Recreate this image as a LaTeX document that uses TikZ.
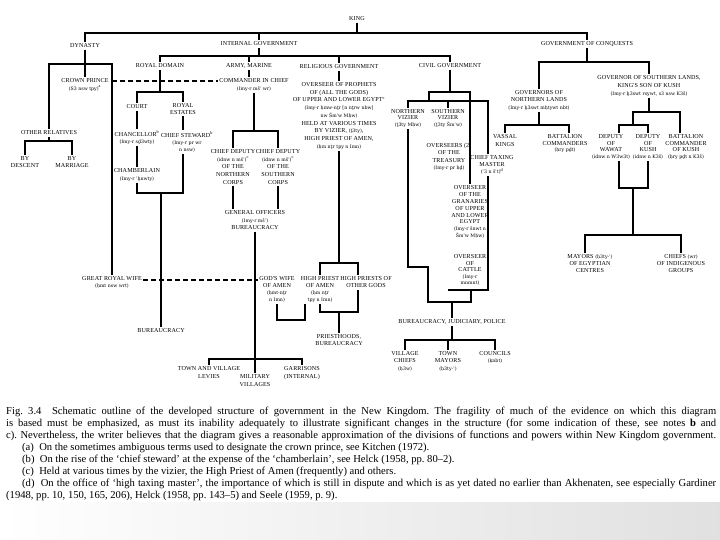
\documentclass[tikz,border=0pt]{standalone}
\usepackage{fontspec}
\setmainfont{Liberation Serif}
\newfontfamily\labf[LetterSpace=2]{Liberation Serif}
\newfontfamily\trf{DejaVu Serif}
\newcommand\labfont{\labf\fontsize{6.1}{7.3}\selectfont}
\newcommand\tr[1]{{\trf\fontsize{4.7}{5}\selectfont #1}}
\newcommand\sups[1]{\textsuperscript{#1}}
\begin{document}
\begin{tikzpicture}[x=1pt,y=-1pt,
  lab/.style={font=\labfont, align=center, inner sep=1.5pt},
  lsp/.style={font={\labf\fontsize{6.1}{#1}\selectfont}},
  conn/.style={line width=1.1pt, line join=miter},
  dline/.style={line width=1.1pt, dash pattern=on 5pt off 3pt},
  dbl/.style={line width=0.6pt, double distance=1.2pt},
  capline/.style={font=\fontsize{10.6}{12}\selectfont\frenchspacing, inner sep=0pt, anchor=base west}]
\useasboundingbox (0,0) rectangle (720,540);
\fill[white] (0,0) rectangle (720,540);
\shade[left color=white, right color=black!12] (0,502) rectangle (720,540);

% ---------- nodes ----------
\node[lab] (king) at (357,19) {KING};
\node[lab] (dyn) at (85,46) {DYNASTY};
\node[lab] (intg) at (259,44) {INTERNAL GOVERNMENT};
\node[lab] (conq) at (587,44) {GOVERNMENT OF CONQUESTS};

\node[lab] (cp) at (85,85) {CROWN PRINCE\\\tr{(S3 nsw tpy)}\sups{a}};
\node[lab] (ord) at (49,133) {OTHER RELATIVES};
\node[lab] (byd) at (25,162) {BY\\DESCENT};
\node[lab] (bym) at (72,162) {BY\\MARRIAGE};
\node[lab] (grw) at (112,282.5) {GREAT ROYAL WIFE\\\tr{(ḥmt nsw wrt)}};

\node[lab] (rd) at (160,66) {ROYAL DOMAIN};
\node[lab] (army) at (249,66) {ARMY, MARINE};
\node[lab] (relg) at (339,67) {RELIGIOUS GOVERNMENT};
\node[lab] (civ) at (450,66) {CIVIL GOVERNMENT};

\node[lab] (court) at (137,107) {COURT};
\node[lab] (est) at (183,109) {ROYAL\\ESTATES};
\node[lab] (chanc) at (137,137.5) {CHANCELLOR\sups{b}\\\tr{(Imy-r sḏ3wty)}};
\node[lab] (stew) at (187,142) {CHIEF STEWARD\sups{b}\\\tr{(Imy-r pr wr}\\\tr{n nsw)}};
\node[lab] (chamb) at (137,175) {CHAMBERLAIN\\\tr{(Imy-r ʿḫnwty)}};
\node[lab] (bur1) at (161,331) {BUREAUCRACY};

\node[lab] (cic) at (254,85) {COMMANDER IN CHIEF\\\tr{(Imy-r mšʿ wr)}};
\node[lab,lsp=7.7] (cdn) at (233,167) {CHIEF DEPUTY\\\tr{(idnw n mšʿ)}\sups{c}\\OF THE\\NORTHERN\\CORPS};
\node[lab,lsp=7.7] (cds) at (278,167) {CHIEF DEPUTY\\\tr{(idnw n mšʿ)}\sups{c}\\OF THE\\SOUTHERN\\CORPS};
\node[lab,lsp=7.5] (genoff) at (255,220.5) {GENERAL OFFICERS\\\tr{(Imy-r mšʿ)}\\BUREAUCRACY};
\node[lab,lsp=8] (tvl) at (209,373) {TOWN AND VILLAGE\\LEVIES};
\node[lab] (mv) at (255,380.5) {MILITARY\\VILLAGES};
\node[lab,lsp=8] (gar) at (302,373) {GARRISONS\\(INTERNAL)};

\node[lab,lsp=7.75] (ovp) at (339,116) {OVERSEER OF PROPHETS\\OF (ALL THE GODS)\\OF UPPER AND LOWER EGYPT\sups{c}\\\tr{(Imy-r ḥmw-nṯr [n nṯrw nbw]}\\\tr{nw Šmʿw Mḥw)}\\HELD AT VARIOUS TIMES\\BY VIZIER, \tr{(ṯ3ty)},\\HIGH PRIEST OF AMEN,\\\tr{(ḥm nṯr tpy n Imn)}};
\node[lab,lsp=7] (gwa) at (277,289.5) {GOD'S WIFE\\OF AMEN\\\tr{(ḥmt-nṯr}\\\tr{n Imn)}};
\node[lab,lsp=7] (hpa) at (320,289.5) {HIGH PRIEST\\OF AMEN\\\tr{(ḥm nṯr}\\\tr{tpy n Imn)}};
\node[lab,lsp=7] (hpo) at (366,282.5) {HIGH PRIESTS OF\\OTHER GODS};
\node[lab,lsp=7] (prb) at (339,340.5) {PRIESTHOODS,\\BUREAUCRACY};

\node[lab,lsp=6.5] (nv) at (408,118.3) {NORTHERN\\VIZIER\\\tr{(ṯ3ty Mḥw)}};
\node[lab,lsp=6.5] (sv) at (448,118.3) {SOUTHERN\\VIZIER\\\tr{(ṯ3ty Šmʿw)}};
\node[lab,lsp=7.3] (ovt) at (449,157) {OVERSEERS (2)\\OF THE\\TREASURY\\\tr{(Imy-r pr ḥḏ)}};
\node[lab,lsp=7] (ctm) at (492,165) {CHIEF TAXING\\MASTER\\\tr{(ʿ3 n šʿt)}\sups{d}};
\node[lab,lsp=6.9] (ovg) at (470,212) {OVERSEER\\OF THE\\GRANARIES\\OF UPPER\\AND LOWER\\EGYPT\\\tr{(Imy-r šnwt n}\\\tr{Šmʿw Mḥw)}};
\node[lab,lsp=6.5] (ovc) at (470,270) {OVERSEER\\OF\\CATTLE\\\tr{(Imy-r}\\\tr{mnmnt)}};
\node[lab] (bjp) at (452,322) {BUREAUCRACY, JUDICIARY, POLICE};
\node[lab,lsp=7.5] (vc) at (405,361.3) {VILLAGE\\CHIEFS\\\tr{(ḥ3w)}};
\node[lab,lsp=7.5] (tm) at (448,361.3) {TOWN\\MAYORS\\\tr{(ḥ3ty-ʿ)}};
\node[lab,lsp=7.5] (cou) at (495,357.5) {COUNCILS\\\tr{(ḳnbt)}};

\node[lab,lsp=7.5] (gnl) at (539,100.3) {GOVERNORS OF\\NORTHERN LANDS\\\tr{(Imy-r ḫ3swt mḥtywt nbt)}};
\node[lab,lsp=8] (gsl) at (649,86) {GOVERNOR OF SOUTHERN LANDS,\\KING'S SON OF KUSH\\\tr{(Imy-r ḫ3swt rsywt, s3 nsw K3š)}};
\node[lab,lsp=8] (vk) at (505,141) {VASSAL\\KINGS};
\node[lab,lsp=6.8] (bc) at (565,143.7) {BATTALION\\COMMANDERS\\\tr{(ḥry pḏt)}};
\node[lab,lsp=6.7] (dw) at (611,147) {DEPUTY\\OF\\WAWAT\\\tr{(idnw n W3w3t)}};
\node[lab,lsp=6.7] (dk) at (648,147) {DEPUTY\\OF\\KUSH\\\tr{(idnw n K3š)}};
\node[lab,lsp=6.7] (bck) at (686,147) {BATTALION\\COMMANDER\\OF KUSH\\\tr{(ḥry pḏt n K3š)}};
\node[lab,lsp=7] (may) at (590,264) {MAYORS \tr{(ḥ3ty-ʿ)}\\OF EGYPTIAN\\CENTRES};
\node[lab,lsp=7] (chf) at (681,264) {CHIEFS \tr{(wr)}\\OF INDIGENOUS\\GROUPS};

% ---------- coordinates ----------
\coordinate (yTop) at (0,33);
\coordinate (yDyn) at (0,64);
\coordinate (yRelv) at (0,141);
\coordinate (yD1) at (0,81);
\coordinate (yD2) at (0,280);
\coordinate (yInt) at (0,56);
\coordinate (yRD) at (0,92);
\coordinate (yRD2) at (0,193);
\coordinate (yAr) at (0,131);
\coordinate (yMil) at (0,359);
\coordinate (yRg) at (0,263);
\coordinate (hpoL) at (358,0);
\coordinate (yB1) at (0,320);
\coordinate (xB1) at (305,0);
\coordinate (yB2) at (0,312);
\coordinate (yC1) at (0,92);
\coordinate (yC2) at (0,101);
\coordinate (xC1) at (429,0);
\coordinate (xC2) at (471,0);
\coordinate (xCR) at (488,0);
\coordinate (yBox) at (0,290);
\coordinate (yC3) at (0,267);
\coordinate (xC3) at (428,0);
\coordinate (yC4) at (0,302);
\coordinate (yC5) at (0,340);
\coordinate (yQ1) at (0,62);
\coordinate (yQ2) at (0,125);
\coordinate (yQ3) at (0,112);
\coordinate (xQ1) at (633,0);
\coordinate (xBC) at (569,0);
\coordinate (xBK) at (680,0);
\coordinate (xDW) at (619,0);
\coordinate (yQ4) at (0,188);
\coordinate (yQ5) at (0,235);
\coordinate (xMay) at (585,0);

% ---------- connectors ----------
\draw[conn] (king.south) -- (king.south |- yTop);
\draw[conn] (dyn.north) -- (dyn.north |- yTop) -- (conq.north |- yTop) -- (conq.north);
\draw[conn] (intg.north |- yTop) -- (intg.north);

\draw[conn] (dyn.south) -- (cp.north);
\draw[conn] (ord.north) -- (ord.north |- yDyn) -- (grw.north |- yDyn) -- (grw.north);
\draw[conn] (ord.south) -- (ord.south |- yRelv);
\draw[conn] (byd.north) -- (byd.north |- yRelv) -- (bym.north |- yRelv) -- (bym.north);
\draw[dline] (grw.north |- yD1) -- (cic.west |- yD1);
\draw[dline] (grw.east |- yD2) -- (gwa.west |- yD2);

\draw[conn] (intg.south) -- (intg.south |- yInt);
\draw[conn] (rd.north) -- (rd.north |- yInt) -- (civ.north |- yInt) -- (civ.north);
\draw[conn] (army.north |- yInt) -- (army.north);
\draw[conn] (relg.north |- yInt) -- (relg.north);

\draw[conn] (rd.south) -- (rd.south |- yRD);
\draw[conn] (court.north) -- (court.north |- yRD) -- (est.north |- yRD) -- (est.north);
\draw[conn] (court.south) -- (chanc.north);
\draw[conn] (chanc.south) -- (chamb.north);
\draw[conn] (est.south) -- (est.south |- stew.north);
\draw[conn] (chamb.south) -- (chamb.south |- yRD2) -- (est.south |- yRD2) -- (est.south |- stew.south);
\draw[conn] (bur1.north |- yRD2) -- (bur1.north);

\draw[conn] (army.south) -- (army.south |- cic.north);
\draw[conn] (cic.south) -- (cic.south |- yAr);
\draw[conn] (cdn.north) -- (cdn.north |- yAr) -- (cds.north |- yAr) -- (cds.north);
\draw[conn] (cdn.south) -- (cdn.south |- genoff.north);
\draw[conn] (cds.south) -- (cds.south |- genoff.north);
\draw[conn] (genoff.south) -- (mv.north);
\draw[conn] (tvl.north) -- (tvl.north |- yMil) -- (gar.north |- yMil) -- (gar.north);

\draw[conn] (relg.south) -- (ovp.north);
\draw[conn] (ovp.south) -- (ovp.south |- yRg);
\draw[conn] (hpa.north) -- (hpa.north |- yRg) -- (hpoL |- yRg) -- (hpoL |- hpo.north);
\draw[conn] (gwa.south) -- (gwa.south |- yB1) -- (xB1 |- yB1) -- (xB1 |- hpa.south);
\draw[conn] (hpa.south) -- (hpa.south |- yB2) -- (hpoL |- yB2) -- (hpoL |- hpo.south);
\draw[conn] (prb.north |- yB2) -- (prb.north);

\draw[conn] (civ.south) -- (civ.south |- yC1);
\draw[conn] (xC1 |- yC2) -- (xC1 |- yC1) -- (ovg.north |- yC1) -- (ovg.north);
\draw[conn] (nv.north) -- (nv.north |- yC2) -- (xCR |- yC2) -- (xCR |- ctm.north);
\draw[conn] (sv.north |- yC2) -- (sv.north);
\draw[dbl] (sv.south) -- (sv.south |- ovt.north);
\draw[dbl] (sv.south |- ovt.south) -- (sv.south |- yBox);
\draw[conn] (xCR |- ctm.south) -- (xCR |- yBox) -- (sv.south |- yBox);
\draw[conn] (nv.south) -- (nv.south |- yC3) -- (xC3 |- yC3) -- (xC3 |- yC4) -- (xC2 |- yC4) -- (xC2 |- yBox);
\draw[conn] (bjp.north |- yC4) -- (bjp.north);
\draw[conn] (bjp.south) -- (bjp.south |- yC5);
\draw[conn] (vc.north) -- (vc.north |- yC5) -- (cou.north |- yC5) -- (cou.north);
\draw[conn] (tm.north |- yC5) -- (tm.north);

\draw[conn] (conq.south) -- (conq.south |- yQ1);
\draw[conn] (gnl.north) -- (gnl.north |- yQ1) -- (gsl.north |- yQ1) -- (gsl.north);
\draw[conn] (gnl.south) -- (gnl.south |- yQ2);
\draw[conn] (vk.north) -- (vk.north |- yQ2) -- (xBC |- yQ2) -- (xBC |- bc.north);
\draw[conn] (gsl.south) -- (gsl.south |- yQ3);
\draw[conn] (xQ1 |- yQ2) -- (xQ1 |- yQ3) -- (xBK |- yQ3) -- (xBK |- bck.north);
\draw[conn] (xDW |- dw.north) -- (xDW |- yQ2) -- (dk.north |- yQ2) -- (dk.north);
\draw[conn] (xDW |- dw.south) -- (xDW |- yQ4) -- (dk.south |- yQ4) -- (dk.south);
\draw[conn] (xQ1 |- yQ4) -- (xQ1 |- yQ5);
\draw[conn] (xMay |- may.north) -- (xMay |- yQ5) -- (chf.north |- yQ5) -- (chf.north);

% ---------- caption ----------
\node[capline] (c1) at (6,414) {\makebox[710pt][s]{Fig.\ 3.4\quad Schematic outline of the developed structure of government in the New Kingdom. The fragility of much of the evidence on which this diagram}};
\node[capline] (c2) at (6,426) {\makebox[710pt][s]{is based must be emphasized, as must its inability adequately to illustrate significant changes in the structure (for some indication of these, see notes \textbf{b} and}};
\node[capline] (c3) at (6,438) {\makebox[710pt][s]{c). Nevertheless, the writer believes that the diagram gives a reasonable approximation of the divisions of functions and powers within New Kingdom government.}};
\node[capline] (c4) at (22,450) {(a)\ \ On the sometimes ambiguous terms used to designate the crown prince, see Kitchen (1972).};
\node[capline] (c5) at (22,462) {(b)\ \ On the rise of the `chief steward' at the expense of the `chamberlain', see Helck (1958, pp. 80–2).};
\node[capline] (c6) at (22,474) {(c)\ \ Held at various times by the vizier, the High Priest of Amen (frequently) and others.};
\node[capline] (c7) at (22,486) {\makebox[694pt][s]{(d)\ \ On the office of `high taxing master', the importance of which is still in dispute and which is as yet dated no earlier than Akhenaten, see especially Gardiner}};
\node[capline] (c8) at (6,498) {(1948, pp. 10, 150, 165, 206), Helck (1958, pp. 143–5) and Seele (1959, p. 9).};
\end{tikzpicture}
\end{document}
